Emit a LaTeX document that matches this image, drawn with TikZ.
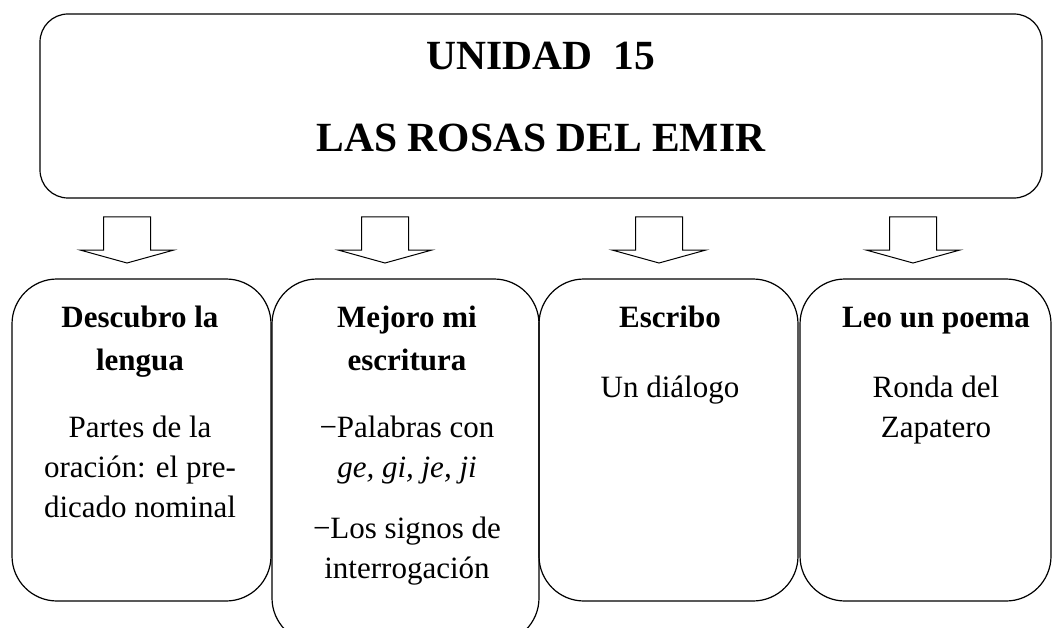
\documentclass[tikz,border=0pt]{standalone}
\usepackage{fontspec}
\setmainfont{Liberation Serif}

\begin{document}
\begin{tikzpicture}
  			[x=1pt,y=-1pt,line width=1.2pt,
  			 caja/.style={draw,rounded corners=45pt,inner sep=0pt},
  			 titulo/.style={font=\fontsize{41.5}{50}\selectfont\bfseries,anchor=base},
  			 tema/.style={font=\fontsize{31}{43}\selectfont\bfseries,align=center,anchor=base},
  			 texto/.style={font=\fontsize{31}{40}\selectfont,align=center,anchor=base}]
  			\useasboundingbox (0,0) rectangle (1056,628);

  			\node[caja,rounded corners=28pt,minimum width=1002,minimum height=184] (unidad) at (541,106) {};
  			\node[titulo] (t1) at (541,70)  {UNIDAD\ \ 15};
  			\node[titulo] (t2) at (541,152) {LAS ROSAS DEL EMIR};

  			\node[caja,minimum width=259,minimum height=322] (c1) at (141.5,440) {};
  			\node[caja,minimum width=267,minimum height=364] (c2) at (405.5,461) {};
  			\node[caja,minimum width=259,minimum height=322] (c3) at (668.5,440) {};
  			\node[caja,minimum width=251,minimum height=322] (c4) at (925.5,440) {};

  			\node[tema]  (h1) at (140,370) {Descubro la\\lengua};
  			\node[texto] (x1) at (140,517) {Partes de la\\oración: el pre-\\dicado nominal};
  			\node[tema]  (h2) at (407,370) {Mejoro mi\\escritura};
  			\node[texto] (x2) at (407,578) {−Palabras con\\\textit{ge, gi, je, ji}\\[21pt]−Los signos de\\interrogación};
  			\node[tema]  (h3) at (670,327) {Escribo};
  			\node[texto] (x3) at (670,397) {Un diálogo};
  			\node[tema]  (h4) at (936,327) {Leo un poema};
  			\node[texto] (x4) at (936,437) {Ronda del\\Zapatero};

  			\foreach \x in {127,385,659,913}
    		\draw[line width=1pt] (\x-23.5,217) -- (\x+23.5,217) -- (\x+23.5,250) -- (\x+47,250)
    			-- (\x,263) -- (\x-47,250) -- (\x-23.5,250) -- cycle;
		\end{tikzpicture}
\end{document}
